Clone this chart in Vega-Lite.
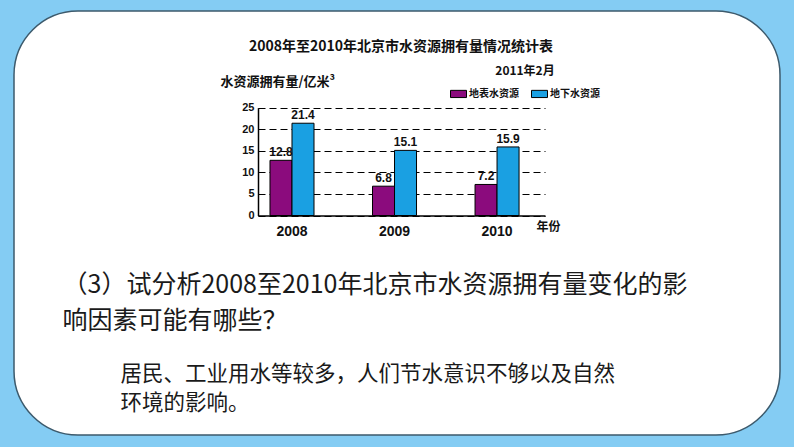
{
  "$schema": "https://vega.github.io/schema/vega-lite/v6.json",
  "width": 766,
  "height": 424,
  "autosize": {"type": "none"},
  "padding": {"left": 14, "top": 11, "right": 14, "bottom": 12},
  "background": "#84CCF3",
  "title": {
    "text": "2008年至2010年北京市水资源拥有量情况统计表",
    "anchor": "middle",
    "frame": "group",
    "offset": -43,
    "dx": 4,
    "font": "Noto Sans CJK SC",
    "fontSize": 14,
    "fontWeight": "bold",
    "color": "#111111"
  },
  "config": {
    "font": "Noto Sans CJK SC",
    "view": {"fill": "white", "stroke": "#3D5A6C", "strokeWidth": 1.5, "cornerRadius": 64}
  },
  "data": {
    "values": [
      {"year": "2008", "type": "地表水资源", "value": 12.8},
      {"year": "2008", "type": "地下水资源", "value": 21.4},
      {"year": "2009", "type": "地表水资源", "value": 6.8},
      {"year": "2009", "type": "地下水资源", "value": 15.1},
      {"year": "2010", "type": "地表水资源", "value": 7.2},
      {"year": "2010", "type": "地下水资源", "value": 15.9}
    ]
  },
  "resolve": {"axis": {"x": "independent", "y": "independent"}},
  "layer": [
    {
      "mark": {"type": "bar", "stroke": "black", "strokeWidth": 1},
      "encoding": {
        "x": {
          "field": "year",
          "type": "nominal",
          "scale": {"range": [244, 531], "paddingInner": 0.5707, "paddingOuter": 0.185, "align": 0.316},
          "axis": {
            "orient": "bottom",
            "offset": -219.5,
            "labelAngle": 0,
            "labelFont": "Liberation Sans",
            "labelFontSize": 14,
            "labelFontWeight": "bold",
            "labelColor": "#111111",
            "labelPadding": 9,
            "ticks": false,
            "tickSize": 0,
            "domainColor": "black",
            "domainWidth": 1.5,
            "grid": false,
            "title": "年份",
            "titleX": 534,
            "titleY": 11,
            "titleAlign": "center",
            "titleBaseline": "middle",
            "titleFontSize": 12,
            "titleFontWeight": "bold",
            "titleColor": "#111111"
          }
        },
        "xOffset": {"field": "type", "type": "nominal", "scale": {"domain": ["地表水资源", "地下水资源"]}},
        "y": {
          "field": "value",
          "type": "quantitative",
          "scale": {"domain": [0, 25], "range": [204.5, 96.7], "nice": false},
          "axis": {
            "orient": "left",
            "offset": -244,
            "zindex": 0,
            "values": [0, 5, 10, 15, 20, 25],
            "grid": true,
            "gridDash": [7, 4],
            "gridColor": "black",
            "gridWidth": 1.2,
            "gridOpacity": 1,
            "ticks": false,
            "tickSize": 0,
            "labelPadding": 4,
            "labelFont": "Liberation Sans",
            "labelFontSize": 11,
            "labelFontWeight": "bold",
            "labelColor": "#111111",
            "domainColor": "black",
            "domainWidth": 1.5,
            "title": "水资源拥有量/亿米³",
            "titleAngle": 0,
            "titleX": -38,
            "titleY": 70.7,
            "titleAlign": "left",
            "titleBaseline": "middle",
            "titleFontSize": 13,
            "titleFontWeight": "bold",
            "titleColor": "#111111"
          }
        },
        "color": {
          "field": "type",
          "type": "nominal",
          "scale": {"domain": ["地表水资源", "地下水资源"], "range": ["#8B0B7D", "#1AA0E2"]},
          "legend": {
            "orient": "none",
            "legendX": 436,
            "legendY": 55,
            "direction": "horizontal",
            "title": "2011年2月",
            "titleAnchor": "middle",
            "titleFontSize": 12,
            "titleFontWeight": "bold",
            "titleColor": "#111111",
            "titlePadding": 7,
            "symbolType": "M-1,-0.45H1V0.45H-1Z",
            "symbolSize": 256,
            "symbolStrokeColor": "black",
            "symbolStrokeWidth": 1,
            "symbolOpacity": 1,
            "labelFontSize": 10,
            "labelFontWeight": "bold",
            "labelColor": "#111111",
            "labelOffset": 2,
            "columnPadding": 10,
            "padding": 0
          }
        }
      }
    },
    {
      "mark": {"type": "text", "dy": -4, "baseline": "alphabetic", "fontSize": 12, "fontWeight": "bold", "font": "Liberation Sans", "color": "#111111"},
      "encoding": {
        "x": {
          "field": "year",
          "type": "nominal",
          "axis": {
            "orient": "top",
            "offset": 0,
            "domain": false,
            "labels": false,
            "ticks": false,
            "grid": false,
            "title": ["（3）试分析2008至2010年北京市水资源拥有量变化的影", "响因素可能有哪些？"],
            "titleX": 48,
            "titleY": 281,
            "titleAngle": 0,
            "titleAlign": "left",
            "titleBaseline": "alphabetic",
            "titleFontSize": 25,
            "titleFontWeight": "normal",
            "titleLineHeight": 36.5,
            "titleColor": "#1A1A1A"
          }
        },
        "xOffset": {"field": "type", "type": "nominal", "scale": {"domain": ["地表水资源", "地下水资源"]}},
        "y": {
          "field": "value",
          "type": "quantitative",
          "axis": {
            "orient": "right",
            "offset": 0,
            "domain": false,
            "labels": false,
            "ticks": false,
            "grid": false,
            "title": ["居民、工业用水等较多，人们节水意识不够以及自然", "环境的影响。"],
            "titleX": -660,
            "titleY": 369,
            "titleAngle": 0,
            "titleAlign": "left",
            "titleBaseline": "alphabetic",
            "titleFontSize": 21.5,
            "titleFontWeight": "normal",
            "titleLineHeight": 29.5,
            "titleColor": "#1A1A1A"
          }
        },
        "text": {"field": "value", "type": "quantitative", "format": ".1f"}
      }
    }
  ]
}
